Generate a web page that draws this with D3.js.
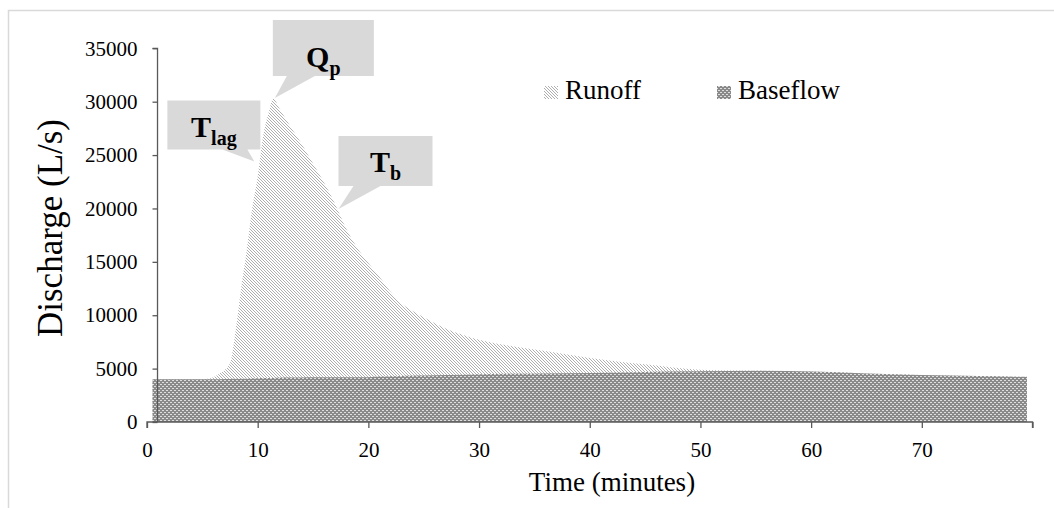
<!DOCTYPE html>
<html><head><meta charset="utf-8">
<script src="https://cdn.jsdelivr.net/npm/d3@7"></script>
<style>body{margin:0;background:#fff}svg{display:block}text{font-family:"Liberation Serif","Times New Roman",serif;fill:#000}</style>
</head><body>
<svg id="c" width="1054" height="508"></svg>
<script>
// ---- data ----
const time =     [0.5, 2, 4, 5.5, 6.5, 7.5, 8, 8.5, 9, 9.5, 10, 10.5, 11, 11.4, 12, 13, 14, 15, 16, 17, 18, 19, 20, 21, 22, 23, 24, 25, 27, 30, 33, 36, 40, 45, 50, 55, 60, 65, 70, 75, 79.5];
const runoff =   [4000,4000,4000,4050,4500,5500,8500,12500,16000,20000,23000,26800,29000,30300,29300,27600,26000,24200,22400,20400,18100,16300,14900,13600,12200,11100,10400,9800,8750,7700,7100,6650,6000,5400,4900,4800,4720,4550,4400,4300,4230];
const baseflow = [4000,4000,4000,4000,4010,4030,4040,4050,4060,4080,4100,4110,4120,4130,4140,4160,4170,4180,4190,4200,4200,4200,4200,4250,4280,4310,4330,4350,4400,4480,4520,4550,4600,4680,4750,4800,4720,4550,4400,4300,4230];
const seriesNames = ["Runoff", "Baseflow"];
const yTicks = [0,5000,10000,15000,20000,25000,30000,35000];
const xTicks = [0,10,20,30,40,50,60,70,80];
const xTickLabels = ["0","10","20","30","40","50","60","70",""];
const annotations = [
  {main:"T", sub:"lag", t:9.7, q:24400},
  {main:"Q", sub:"p",   t:11.55, q:30350},
  {main:"T", sub:"b",   t:17.3, q:19950}
];
const yTitle = "Discharge (L/s)";
const xTitle = "Time (minutes)";

// ---- layout ----
const svg = d3.select("#c");
const x = d3.scaleLinear().domain([0,80]).range([147,1032.5]);
const y = d3.scaleLinear().domain([0,35000]).range([422,48.3]);
const axisColor = "#595959";

// frame
svg.append("path").attr("d","M8.5,508 L8.5,10.5 L1054,10.5").attr("fill","none").attr("stroke","#d9d9d9").attr("stroke-width",1.5);

// patterns
const defs = svg.append("defs");
const pr = defs.append("pattern").attr("id","pRun").attr("patternUnits","userSpaceOnUse").attr("width",3).attr("height",3);
pr.append("rect").attr("width",3).attr("height",3).attr("fill","#fff");
pr.append("path").attr("d","M-1,-1 L4,4 M-1,2 L1,4 M2,-1 L4,1").attr("stroke","#a6a6a6").attr("stroke-width",0.9);
const pb = defs.append("pattern").attr("id","pBase").attr("patternUnits","userSpaceOnUse").attr("width",4).attr("height",4);
pb.append("rect").attr("width",4).attr("height",4).attr("fill","#8a8a8a");
pb.append("rect").attr("x",0).attr("y",0).attr("width",2).attr("height",1).attr("fill","#dedede");
pb.append("rect").attr("x",2).attr("y",2).attr("width",2).attr("height",1).attr("fill","#dedede");

const area = vals => d3.area().x((d,i)=>x(time[i])).y0(y(0)).y1((d,i)=>y(vals[i])).curve(d3.curveMonotoneX)(vals);
svg.append("path").attr("d",area(runoff)).attr("fill","url(#pRun)");
svg.append("path").attr("d",area(baseflow)).attr("fill","url(#pBase)");

// y axis (crosses at t≈0.95)
const yAxisX = x(0.95);
const gy = svg.append("g").attr("transform",`translate(${yAxisX},0)`)
  .call(d3.axisLeft(y).tickValues(yTicks).tickSize(5).tickPadding(15).tickFormat(d3.format("d")));
gy.selectAll("path,line").attr("stroke",axisColor).attr("stroke-width",1.3);
gy.select(".domain").attr("d",`M-5,${y(35000)}H0V${y(0)}`);
gy.selectAll("text").attr("font-size",21).attr("font-family","Liberation Serif").attr("fill","#000");

const gx = svg.append("g").attr("transform",`translate(0,${y(0)})`)
  .call(d3.axisBottom(x).tickValues(xTicks).tickSize(6).tickPadding(14).tickFormat((d,i)=>xTickLabels[i]));
gx.selectAll("path,line").attr("stroke",axisColor).attr("stroke-width",1.3);
gx.select(".domain").attr("d",`M${x(0)},6V0H${x(80)}V6`);
gx.selectAll("text").attr("font-size",21).attr("font-family","Liberation Serif").attr("fill","#000");

// titles
svg.append("text").attr("transform","translate(62,228) rotate(-90)").attr("text-anchor","middle").attr("font-size",35).text(yTitle);
svg.append("text").attr("x",612).attr("y",491).attr("text-anchor","middle").attr("font-size",27).text(xTitle);

// legend
const legend = [{name:seriesNames[0], fill:"url(#pRun)", x:544},{name:seriesNames[1], fill:"url(#pBase)", x:717}];
legend.forEach(l=>{
  svg.append("rect").attr("x",l.x).attr("y",86).attr("width",14).attr("height",13).attr("fill",l.fill);
  svg.append("text").attr("x",l.x+21).attr("y",99).attr("font-size",27).text(l.name);
});

// callouts: box offsets relative to tip
const boxes = [
  {l:-87,r:6,t:-61,b:-12,t1:-32,t2:-7,fromTop:true,base:37},
  {l:-2,r:99,t:-78,b:-22,t1:12,t2:40,fromTop:false,base:-9},
  {l:0,r:94,t:-73,b:-23,t1:15,t2:42,fromTop:true,base:36}
];
annotations.forEach((a,i)=>{
  const tx = x(a.t), ty = y(a.q), b = boxes[i];
  const L=tx+b.l, R=tx+b.r, T=ty+b.t, B=ty+b.b;
  svg.append("path").attr("d",`M${L},${T}H${R}V${B}H${tx+b.t2}L${tx},${ty}L${tx+b.t1},${B}H${L}Z`).attr("fill","#d9d9d9");
  const txt = svg.append("text").attr("x",(L+R)/2).attr("text-anchor","middle").attr("font-weight","bold")
    .attr("y", b.fromTop ? T + b.base : B + b.base);
  txt.append("tspan").attr("font-size",30).text(a.main);
  txt.append("tspan").attr("font-size",20).attr("dy",8).text(a.sub);
});
</script>
</body></html>
